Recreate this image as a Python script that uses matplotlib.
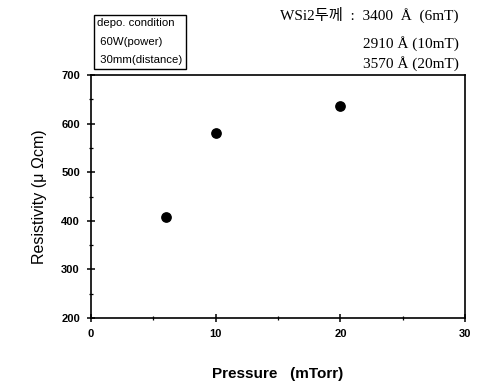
import matplotlib
matplotlib.use("Agg")
import matplotlib.pyplot as plt
from matplotlib.ticker import MultipleLocator

pressure = [6, 10, 20]
resistivity = [408, 580, 636]

condition_lines = ["depo. condition", " 60W(power)", " 30mm(distance)"]
thickness_lines = ["WSi2두께  :  3400  Å  (6mT)", "2910 Å (10mT)", "3570 Å (20mT)"]

plt.rcParams["font.family"] = ["Liberation Sans", "DejaVu Sans"]

fig = plt.figure(figsize=(4.79, 3.85), dpi=100)
ax = fig.add_axes([0.190, 0.174, 0.781, 0.631])

ax.scatter(pressure, resistivity, s=45, color="black", zorder=3)

ax.set_xlim(0, 30)
ax.set_ylim(200, 700)
ax.xaxis.set_major_locator(MultipleLocator(10))
ax.xaxis.set_minor_locator(MultipleLocator(5))
ax.yaxis.set_major_locator(MultipleLocator(100))
ax.yaxis.set_minor_locator(MultipleLocator(50))

ax.tick_params(axis="both", which="major", direction="inout", length=6, width=1.1,
               labelsize=8, pad=5)
ax.tick_params(axis="both", which="minor", direction="inout", length=3, width=0.9)
for lbl in ax.get_xticklabels() + ax.get_yticklabels():
    lbl.set_fontweight("bold")

for sp in ax.spines.values():
    sp.set_linewidth(1.2)

ax.set_xlabel("Pressure   (mTorr)", fontsize=11, fontweight="bold", labelpad=20)
ax.set_ylabel("Resistivity (μ Ωcm)", fontsize=11.5, labelpad=10)

# condition box
fig.text(0.203, 0.952, "\n".join(condition_lines), fontsize=8.2, va="top", ha="left",
         linespacing=2.05,
         bbox=dict(boxstyle="square,pad=0.3", facecolor="white", edgecolor="black", linewidth=1.0))

# thickness notes
ys = [0.961, 0.888, 0.836]
for t, y in zip(thickness_lines, ys):
    fig.text(0.958, y, t, fontsize=11, ha="right", va="center",
             family=["Liberation Serif", "Noto Sans CJK KR"])

fig.savefig("out.png", dpi=100)
